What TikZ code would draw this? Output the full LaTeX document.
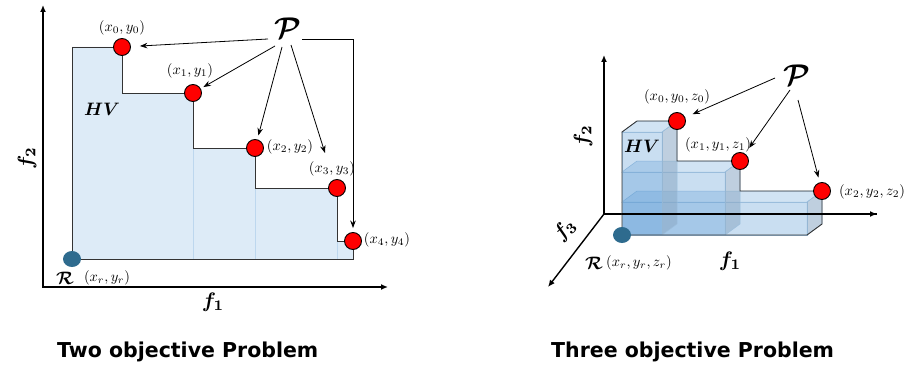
\documentclass[tikz,border=0pt]{standalone}
\usepackage{fontspec}
\usepackage{amsmath,bm}
\newfontfamily\capfont{DejaVu Sans}
\usetikzlibrary{arrows.meta,shapes.geometric}
\definecolor{hvfill}{HTML}{DDEBF7}
\definecolor{hvline}{HTML}{BDD7EE}
\definecolor{refpt}{HTML}{2E6B8E}
\definecolor{boxblue}{HTML}{5B9BD5}
\definecolor{boxside}{HTML}{8AA8C4}
\definecolor{boxedge}{HTML}{9CBFDD}
\begin{document}
\begin{tikzpicture}[x=1pt,y=-1pt,
  axis/.style={line width=1.4pt,{Latex[length=7pt,width=6pt]}-{Latex[length=7pt,width=6pt]}},
  axis1/.style={line width=1.4pt,-{Latex[length=7pt,width=6pt]}},
  parr/.style={line width=0.8pt,-{Stealth[length=7.5pt,width=5.5pt]}},
  paretopt/.style={circle,draw=black,line width=0.9pt,fill=red,minimum size=17pt,inner sep=0pt},
  refdot/.style={ellipse,fill=refpt,minimum width=18pt,minimum height=16pt,inner sep=0pt},
  lab/.style={inner sep=0pt,scale=1.45},
  axlab/.style={inner sep=0pt,scale=2.1},
  biglab/.style={inner sep=0pt,scale=1.8},
  plab/.style={inner sep=0pt,scale=3},
  caption/.style={font=\capfont\bfseries\fontsize{20.5}{22}\selectfont,inner sep=0pt,anchor=base west},
  outline/.style={draw=black!80,line width=0.9pt},
  frontface/.style={fill=boxblue,fill opacity=0.33,draw=boxedge,line width=0.5pt},
  topface/.style={fill=boxblue,fill opacity=0.28,draw=boxedge,line width=0.5pt},
  sideface/.style={fill=boxside,fill opacity=0.55,draw=boxedge,line width=0.5pt}]
\useasboundingbox (0,0) rectangle (904,369);

% ================= LEFT: two objectives =================
\coordinate (Ytop1) at (43,5);
\coordinate (O1) at (43,287);
\coordinate (Xend1) at (388,287);

\fill[hvfill] (72,259) -- (72,47) -- (122,47) -- (122,93) -- (193,93) -- (193,148)
  -- (255,148) -- (255,188) -- (337,188) -- (337,241) -- (353,241) -- (353,259) -- cycle;
\draw[hvline,line width=0.6pt] (193,148) -- (193,259) (255,188) -- (255,259) (337,241) -- (337,259);
\draw[outline] (72,259) -- (72,47) -- (122,47) -- (122,93) -- (193,93) -- (193,148)
  -- (255,148) -- (255,188) -- (337,188) -- (337,241) -- (353,241) -- (353,259) -- cycle;

\draw[axis] (Ytop1) -- (O1) -- (Xend1);

\node[refdot] (R1) at (72,259) {};
\node[paretopt] (p0) at (122,47) {};
\node[paretopt] (p1) at (193,93) {};
\node[paretopt] (p2) at (255,148) {};
\node[paretopt] (p3) at (337,188) {};
\node[paretopt] (p4) at (353,241) {};

\node[lab] (l0) at (122,28) {$(x_0,y_0)$};
\node[lab] (l1) at (190,71) {$(x_1,y_1)$};
\node[lab] (l2) at (290,147) {$(x_2,y_2)$};
\node[lab] (l3) at (332,169) {$(x_3,y_3)$};
\node[lab] (l4) at (387,240) {$(x_4,y_4)$};
\node[biglab] (Rl1) at (65,278) {$\bm{\mathcal{R}}$};
\node[lab] (rl1) at (107,278) {$(x_r,y_r)$};
\node[biglab] (hv1) at (102,109) {$\bm{HV}$};
\node[axlab,rotate=90] (f2a) at (27,158) {$\bm{f_2}$};
\node[axlab] (f1a) at (213,302) {$\bm{f_1}$};

\node[plab] (P1) at (288,28) {$\bm{\mathcal{P}}$};
\coordinate (s10) at (268,39);
\coordinate (s11) at (275,46);
\coordinate (s12) at (282,47);
\coordinate (s13) at (291,45);
\coordinate (s14) at (302,39);
\coordinate (e13) at (325,153);
\coordinate (k14) at (353,39);
\draw[parr,shorten >=9pt] (s10) -- (p0);
\draw[parr,shorten >=3pt] (s11) -- (p1);
\draw[parr,shorten >=4pt] (s12) -- (p2);
\draw[parr] (s13) -- (e13);
\draw[parr,shorten >=4pt] (s14) -- (k14) -- (p4);

\node[caption] (cap1) at (57,357) {Two objective Problem};

% ================= RIGHT: three objectives =================
\coordinate (O2) at (604,214);
\coordinate (Ytop2) at (604,55);
\coordinate (Xend2) at (877,214);
\coordinate (Zend2) at (548,287);

\draw[axis] (Ytop2) -- (O2) -- (Xend2);
\draw[axis1] (O2) -- (Zend2);

% box 2 (widest)
\path[frontface] (622,202) rectangle (807,235);
\path[topface] (622,202) -- (637,191) -- (822,191) -- (807,202) -- cycle;
\path[sideface] (807,202) -- (822,191) -- (822,224) -- (807,235) -- cycle;
% box 1
\path[frontface] (622,172) rectangle (725,235);
\path[topface] (622,172) -- (637,161) -- (740,161) -- (725,172) -- cycle;
\path[sideface] (725,172) -- (740,161) -- (740,224) -- (725,235) -- cycle;
% box 0 (tallest)
\path[frontface] (622,132) rectangle (662,235);
\path[topface] (622,132) -- (637,121) -- (677,121) -- (662,132) -- cycle;
\path[sideface] (662,132) -- (677,121) -- (677,224) -- (662,235) -- cycle;

\draw[outline] (622,235) -- (622,132) -- (637,121) -- (677,121) -- (677,161) -- (740,161)
  -- (740,191) -- (822,191) -- (822,224) -- (807,235) -- cycle;
\draw[line width=1.4pt] (622,214) -- (Xend2);

\node[refdot] (R2) at (622,235) {};
\node[paretopt] (q0) at (677,121) {};
\node[paretopt] (q1) at (740,161) {};
\node[paretopt] (q2) at (822,191) {};

\node[lab] (m0) at (677,97) {$(x_0,y_0,z_0)$};
\node[lab] (m1) at (718,145) {$(x_1,y_1,z_1)$};
\node[lab] (m2) at (872,192) {$(x_2,y_2,z_2)$};
\node[biglab] (Rl2) at (594,263) {$\bm{\mathcal{R}}$};
\node[lab] (rl2) at (639,263) {$(x_r,y_r,z_r)$};
\node[biglab] (hv2) at (642,146) {$\bm{HV}$};
\node[axlab,rotate=90] (f2b) at (583,136) {$\bm{f_2}$};
\node[axlab,rotate=45] (f3b) at (565,230) {$\bm{f_3}$};
\node[axlab] (f1b) at (730,261) {$\bm{f_1}$};

\node[plab] (P2) at (797,75) {$\bm{\mathcal{P}}$};
\coordinate (s20) at (775,78);
\coordinate (s21) at (790,90);
\coordinate (s22) at (798,100);
\draw[parr,shorten >=8pt] (s20) -- (q0);
\draw[parr,shorten >=7pt] (s21) -- (q1);
\draw[parr,shorten >=5pt] (s22) -- (q2);

\node[caption] (cap2) at (551,357) {Three objective Problem};
\end{tikzpicture}
\end{document}
